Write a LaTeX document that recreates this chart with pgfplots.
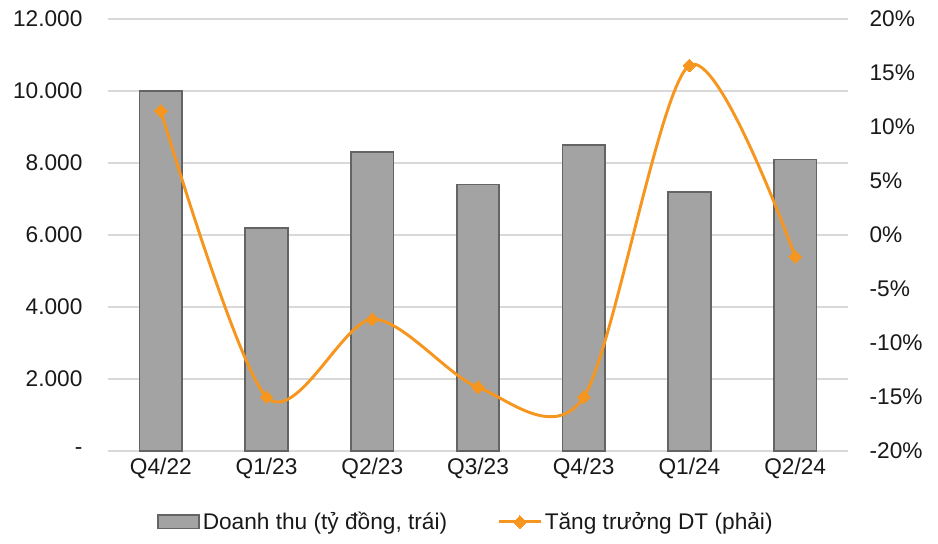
\documentclass[border=0pt]{standalone}
\usepackage{pgfplots}
\pgfplotsset{compat=1.18}
\usepackage{fontspec}
\setmainfont{Liberation Sans}

\definecolor{barfill}{RGB}{163,163,163}
\definecolor{baredge}{RGB}{100,100,100}
\definecolor{growth}{RGB}{247,150,30}
\definecolor{gridgray}{RGB}{217,217,217}
\definecolor{txt}{RGB}{25,25,25}

\pgfplotsset{
  common/.style={
    scale only axis, width=555pt, height=324pt,
    xmin=-0.5, xmax=6.5,
    major tick length=0pt,
    scaled y ticks=false,
    tick label style={font=\fontsize{17}{20}\selectfont, text=txt, inner sep=0pt},
  },
  barleg/.style={legend image code/.code={\draw[##1] (0pt,-5pt) rectangle (31pt,5pt);}},
  lineleg/.style={legend image code/.code={\draw[mark repeat=2, mark phase=2, ##1] plot coordinates {(0pt,0pt) (15.5pt,0pt) (31pt,0pt)};}},
}

% Revenue (billion VND) and revenue growth (%) by quarter
\pgfplotstableread{
x rev growth
0 10000 11.5
1 6200 -15.0
2 8300 -7.8
3 7400 -14.1
4 8500 -15.0
5 7200 15.7
6 8100 -2.0
}\datatable

\begin{document}
\begin{tikzpicture}[font=\fontsize{17}{20}\selectfont, text=txt]
% Left axis: revenue bars
\begin{axis}[common,
  ymin=0, ymax=12000,
  ytick={0,2000,4000,6000,8000,10000,12000},
  yticklabels={-\hspace{12pt},2.000,4.000,6.000,8.000,10.000,12.000},
  yticklabel shift=19pt,
  xtick={0,...,6},
  xticklabels={Q4/22,Q1/23,Q2/23,Q3/23,Q4/23,Q1/24,Q2/24},
  xticklabel shift=5pt,
  ymajorgrids, grid style={gridgray, line width=1pt},
  axis line style={draw=none},
]
\addplot[ybar, bar width=32pt, fill=barfill, draw=baredge, line width=1.3pt]
  table[x=x, y=rev]{\datatable};
\end{axis}
% Right axis: growth line
\begin{axis}[common,
  ymin=-20, ymax=20,
  ytick={-20,-15,...,20},
  yticklabels={-20\%,-15\%,-10\%,-5\%,0\%,5\%,10\%,15\%,20\%},
  axis y line*=right, axis x line=none,
  y axis line style={draw=none},
  yticklabel shift=16pt,
  yticklabel style={anchor=west},
  legend style={draw=none, fill=none, at={(0.484,-0.135)}, anchor=north,
    font=\fontsize{17}{20}\selectfont, text=txt,
    legend columns=2, /tikz/every even column/.append style={column sep=36pt},
    inner sep=0pt},
  legend cell align=left,
]
\addlegendimage{fill=barfill, draw=baredge, line width=1.3pt, barleg}
\addlegendentry{Doanh thu (tỷ đồng, trái)}
\addplot[growth, line width=2.2pt, smooth, tension=0.5,
  mark=square*, mark size=3.4pt, mark options={rotate=45, fill=growth, draw=growth, line width=0pt},
  lineleg]
  table[x=x, y=growth]{\datatable};
\addlegendentry{Tăng trưởng DT (phải)}
\end{axis}
\pgfresetboundingbox
\path[use as bounding box] (-81pt,-69pt) rectangle (622.5pt,338.25pt);
\end{tikzpicture}
\end{document}
